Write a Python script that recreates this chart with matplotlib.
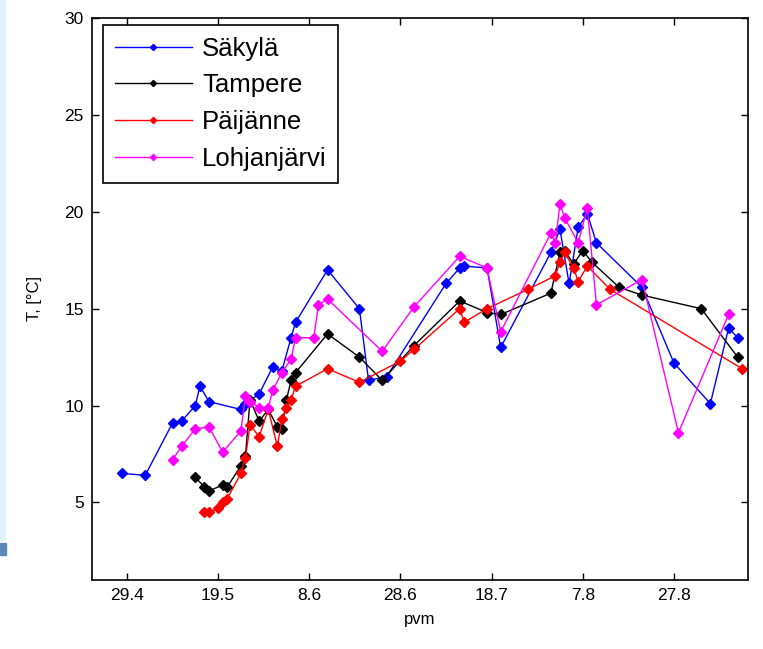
import datetime as dt
import matplotlib
matplotlib.use("Agg")
import matplotlib.pyplot as plt
import matplotlib.dates as mdates
from matplotlib.patches import Rectangle
from matplotlib.ticker import FuncFormatter

plt.rcParams['font.family'] = ['Liberation Sans', 'DejaVu Sans']

year = 2010

# Säkylä
saky_dates = ['04-28', '05-03', '05-09', '05-11', '05-14', '05-15', '05-17', '05-24', '05-25',
              '05-28', '05-31', '06-02', '06-04', '06-05', '06-12', '06-19', '06-21', '06-25',
              '07-08', '07-11', '07-12', '07-17', '07-20', '07-31', '08-02', '08-04', '08-06',
              '08-08', '08-10', '08-20', '08-27', '09-04', '09-08', '09-10']
saky_vals = [6.5, 6.4, 9.1, 9.2, 10.0, 11.0, 10.2, 9.8, 10.1, 10.6, 12.0, 11.8, 13.5, 14.3,
             17.0, 15.0, 11.3, 11.5, 16.3, 17.1, 17.2, 17.1, 13.0, 17.9, 19.1, 16.3, 19.2,
             19.9, 18.4, 16.1, 12.2, 10.1, 14.0, 13.5]

# Tampere
tamp_dates = ['05-14', '05-16', '05-17', '05-20', '05-21', '05-24', '05-25', '05-26', '05-28',
              '05-30', '06-01', '06-02', '06-03', '06-04', '06-05', '06-12', '06-19', '06-24',
              '07-01', '07-11', '07-17', '07-20', '07-31', '08-02', '08-03', '08-05', '08-07',
              '08-09', '08-15', '08-20', '09-02', '09-10']
tamp_vals = [6.3, 5.8, 5.6, 5.9, 5.8, 6.9, 7.4, 10.3, 9.2, 9.8, 8.9, 8.8, 10.3, 11.3, 11.7,
             13.7, 12.5, 11.3, 13.1, 15.4, 14.8, 14.7, 15.8, 17.9, 18.0, 17.3, 18.0, 17.4,
             16.1, 15.7, 15.0, 12.5]

# Päijänne
paij_dates = ['05-16', '05-17', '05-19', '05-20', '05-21', '05-24', '05-25', '05-26', '05-28',
              '05-30', '06-01', '06-02', '06-03', '06-04', '06-05', '06-12', '06-19', '06-28',
              '07-01', '07-11', '07-12', '07-17', '07-26', '08-01', '08-02', '08-03', '08-05',
              '08-06', '08-08', '08-13', '09-11']
paij_vals = [4.5, 4.5, 4.7, 5.0, 5.2, 6.5, 7.3, 9.0, 8.4, 9.8, 7.9, 9.3, 9.9, 10.3, 11.0,
             11.9, 11.2, 12.3, 12.9, 15.0, 14.3, 15.0, 16.0, 16.7, 17.4, 17.9, 17.1, 16.4,
             17.2, 16.0, 11.9]

# Lohjanjärvi
lohj_dates = ['05-09', '05-11', '05-14', '05-17', '05-20', '05-24', '05-25', '05-26', '05-28',
              '05-30', '05-31', '06-02', '06-04', '06-05', '06-09', '06-10', '06-12', '06-24',
              '07-01', '07-11', '07-17', '07-20', '07-31', '08-01', '08-02', '08-03', '08-06',
              '08-08', '08-10', '08-20', '08-28', '09-08']
lohj_vals = [7.2, 7.9, 8.8, 8.9, 7.6, 8.7, 10.5, 10.2, 9.9, 9.9, 10.8, 11.7, 12.4, 13.5, 13.5,
             15.2, 15.5, 12.8, 15.1, 17.7, 17.1, 13.8, 18.9, 18.4, 20.4, 19.7, 18.4, 20.2,
             15.2, 16.5, 8.6, 14.7]

series = [('Säkylä', saky_dates, saky_vals, 'blue'),
          ('Tampere', tamp_dates, tamp_vals, 'black'),
          ('Päijänne', paij_dates, paij_vals, 'red'),
          ('Lohjanjärvi', lohj_dates, lohj_vals, 'magenta')]

tick_dates = ['04-29', '05-19', '06-08', '06-28', '07-18', '08-07', '08-27']


def to_date(s):
    m, d = s.split('-')
    return dt.datetime(year, int(m), int(d))


fig = plt.figure(figsize=(7.63, 6.49), dpi=100)
ax = fig.add_axes([0.1206, 0.1063, 0.8597, 0.866])

for name, ds, vals, col in series:
    ax.plot([to_date(s) for s in ds], vals, '-', color=col, lw=1.0,
            marker='D', ms=5.2, mec=col, mfc=col, label=name)

ax.set_xlim(dt.datetime(year, 4, 21, 8), dt.datetime(year, 9, 12, 6))
ax.set_ylim(1, 30)
ax.set_yticks([5, 10, 15, 20, 25, 30])
ax.set_xticks([to_date(s) for s in tick_dates])
ax.xaxis.set_major_formatter(FuncFormatter(
    lambda v, pos: '%d.%d' % (mdates.num2date(v).day, mdates.num2date(v).month)))

ax.tick_params(direction='in', length=5, width=1, top=True, right=True,
               labelsize=12.5, pad=6)
for sp in ax.spines.values():
    sp.set_linewidth(1.2)

ax.set_xlabel('pvm', fontsize=12, labelpad=6)
ax.set_ylabel('T, [°C]', fontsize=12, labelpad=16)

leg = ax.legend(loc='upper left', bbox_to_anchor=(0.0168, 0.9875), borderaxespad=0,
                fontsize=18.5, fancybox=False, framealpha=1, edgecolor='black',
                handlelength=3.0, handletextpad=0.4, labelspacing=0.5, markerscale=0.6,
                borderpad=0.45)
leg.get_frame().set_linewidth(1.2)

# Reste des Bildrands links
fig.patches.append(Rectangle((0, 1 - 540 / 649), 5 / 763, 540 / 649,
                             transform=fig.transFigure, color='#E2F0FB', zorder=0))
fig.patches.append(Rectangle((0, 1 - 555 / 649), 6 / 763, 12 / 649,
                             transform=fig.transFigure, color='#5A86B8', zorder=0))

fig.savefig('out.png', dpi=100)
